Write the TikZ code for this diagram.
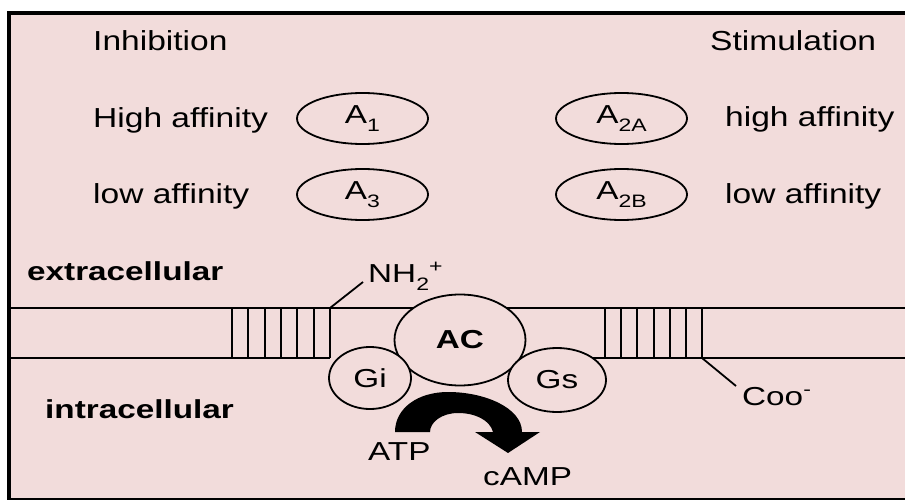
\documentclass[tikz,border=0pt]{standalone}
\usepackage{fontspec}
\setmainfont{Liberation Sans}[FakeStretch=1.28]
\newfontfamily\topfont{Liberation Sans}[FakeStretch=1.22]
\usetikzlibrary{shapes.geometric}
\definecolor{bg}{RGB}{242,220,219}
\newcommand{\sbs}[1]{\raisebox{-8pt}{\fontsize{18}{18}\selectfont #1}}
\newcommand{\sps}[1]{\raisebox{10pt}{\fontsize{18}{18}\selectfont #1}}
\tikzset{
  rec/.style={ellipse, draw, line width=1.8pt, minimum width=131pt, minimum height=51pt, inner sep=0pt},
  prot/.style={ellipse, draw, line width=1.8pt, fill=bg, inner sep=0pt},
  lbl/.style={inner sep=0pt, anchor=base west},
  toplbl/.style={lbl, font=\topfont\fontsize{27.5}{30}\selectfont},
  mem/.style={line width=2pt},
  lead/.style={line width=1.8pt},
}
\begin{document}
\begin{tikzpicture}[x=1pt,y=-1pt,font=\fontsize{26}{30}\selectfont]
\useasboundingbox (0,0) rectangle (905,500);
\clip (0,0) rectangle (905,500);
% frame
\fill[bg] (9,13) rectangle (915,505);
\draw[line width=3.5pt] (9,505) -- (9,13) -- (915,13);
\draw[line width=2pt] (9,498.5) -- (915,498.5);
% top labels
\node[toplbl] (inh) at (93,51) {Inhibition};
\node[toplbl] (stim) at (710,51) {Stimulation};
\node[toplbl] (hiL) at (93,128) {High affinity};
\node[toplbl] (loL) at (93,204) {low affinity};
\node[toplbl] (hiR) at (725,127) {high affinity};
\node[toplbl] (loR) at (725,204) {low affinity};
% receptors
\node[rec] (a1) at (362.5,118.5) {A\sbs{1}};
\node[rec] (a3) at (362.5,194.5) {A\sbs{3}};
\node[rec] (a2a) at (621.5,118.5) {A\sbs{2A}};
\node[rec] (a2b) at (621.5,194.5) {A\sbs{2B}};
% membrane
\coordinate (mTL) at (11,308);
\coordinate (mTR) at (905,308);
\coordinate (mBL) at (11,358);
\coordinate (mBLe) at (330,358);
\coordinate (mBRs) at (557,358);
\coordinate (mBR) at (905,358);
\draw[mem] (mTL) -- (mTR);
\draw[mem] (mBL) -- (mBLe);
\draw[mem] (mBRs) -- (mBR);
\foreach \i in {0,...,6} {
  \draw[mem] ({232+\i*16.33},308) -- ++(0,50);
  \draw[mem] ({605+\i*16.17},308) -- ++(0,50);
}
% leads
\coordinate (recL) at (330,308);
\coordinate (nhend) at (363,282);
\coordinate (recR) at (702,358);
\coordinate (cooend) at (736,386);
\draw[lead] (recL) -- (nhend);
\draw[lead] (recR) -- (cooend);
\node[lbl] (nh2) at (368,282) {NH\sbs{2}\sps{+}};
\node[lbl] (coo) at (742,405) {Coo\sps{-}};
% proteins
\node[prot, minimum width=131pt, minimum height=91pt] (ac) at (460,340) {\bfseries AC};
\node[prot, minimum width=82pt, minimum height=62pt] (gi) at (370,378) {Gi};
\node[prot, minimum width=98pt, minimum height=64pt] (gs) at (557,380) {Gs};
% compartment labels
\node[lbl] (extra) at (27,280) {\bfseries extracellular};
\node[lbl] (intra) at (45,418) {\bfseries intracellular};
% ATP -> cAMP arrow
\fill (395,432) .. controls (395,408) and (418,392) .. (448,392)
  .. controls (485,392) and (522,408) .. (522,432)
  -- (540,432) -- (508,453) -- (475,432) -- (493,432)
  .. controls (490,420) and (475,413) .. (458,413)
  .. controls (442,413) and (430,422) .. (430,432) -- cycle;
\node[lbl] (atp) at (368,460) {ATP};
\node[lbl] (camp) at (483,485) {cAMP};
\end{tikzpicture}
\end{document}
